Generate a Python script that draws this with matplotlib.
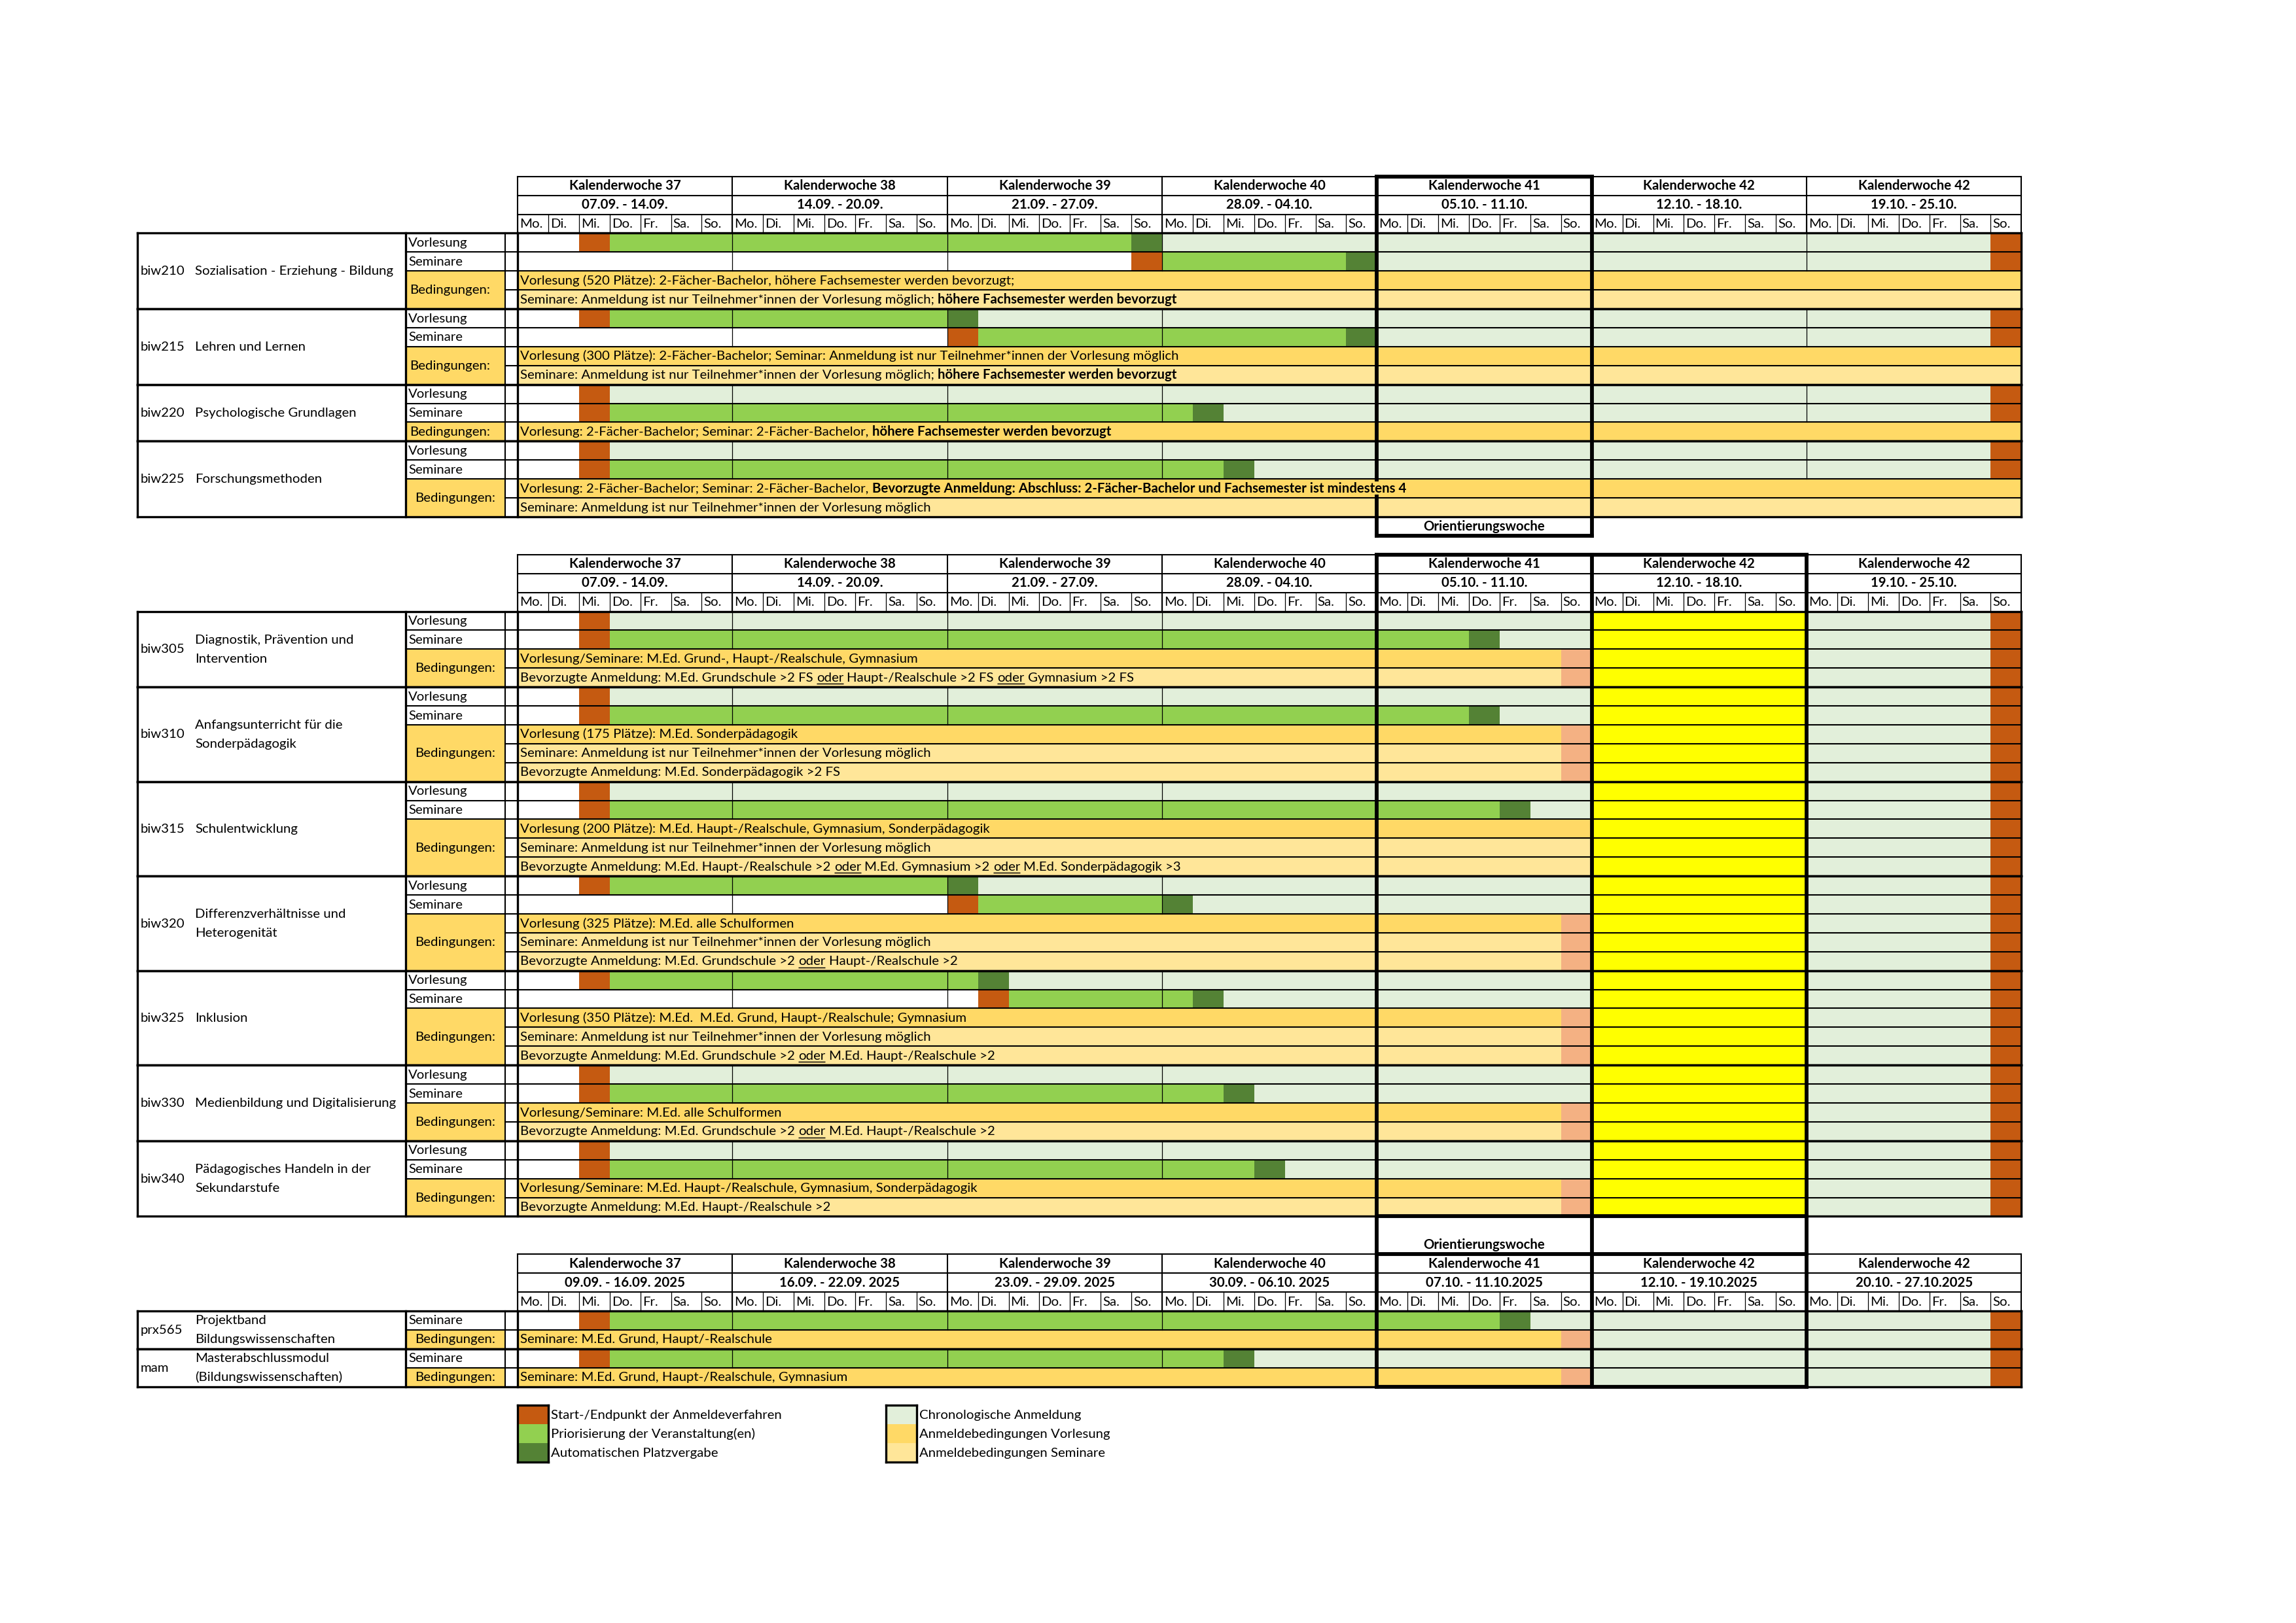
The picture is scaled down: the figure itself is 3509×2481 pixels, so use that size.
import matplotlib
matplotlib.use("Agg")
import matplotlib.pyplot as plt

# cell categories -> fill colour
COL = {
    "s": "#C55A11",  # start / end
    "g": "#92D050",  # priorisierung
    "d": "#548235",  # automatische platzvergabe
    "c": "#E2EFDA",  # chronologische anmeldung
    "v": "#FFD966",  # bedingungen vorlesung
    "m": "#FFE699",  # bedingungen seminare
    "p": "#F4B183",  # end of conditions
    "y": "#FFFF00",  # highlighted week
}

WEEK_LABELS = ["Kalenderwoche 37", "Kalenderwoche 38", "Kalenderwoche 39", "Kalenderwoche 40",
               "Kalenderwoche 41", "Kalenderwoche 42", "Kalenderwoche 42"]
DATES_A = ["07.09. - 14.09.", "14.09. - 20.09.", "21.09. - 27.09.", "28.09. - 04.10.",
           "05.10. - 11.10.", "12.10. - 18.10.", "19.10. - 25.10."]
DATES_C = ["09.09. - 16.09. 2025", "16.09. - 22.09. 2025", "23.09. - 29.09. 2025",
           "30.09. - 06.10. 2025", "07.10. - 11.10.2025", "12.10. - 19.10.2025",
           "20.10. - 27.10.2025"]
DAY_NAMES = ["Mo.", "Di.", "Mi.", "Do.", "Fr.", "Sa.", "So."]

SEM_NOTE = [("Seminare: Anmeldung ist nur Teilnehmer*innen der Vorlesung möglich", "n")]

# block 1 (bachelor); runs = category + number of days
BA_CODES = ["biw210", "biw215", "biw220", "biw225"]
BA_TITLES = [["Sozialisation - Erziehung - Bildung"], ["Lehren und Lernen"],
             ["Psychologische Grundlagen"], ["Forschungsmethoden"]]
BA_VORL = ["w2 s1 g17 d1 c27 s1", "w2 s1 g11 d1 c33 s1", "w2 s1 c45 s1", "w2 s1 c45 s1"]
BA_SEM = ["w20 s1 g6 d1 c20 s1", "w14 s1 g12 d1 c20 s1", "w2 s1 g19 d1 c25 s1",
          "w2 s1 g20 d1 c24 s1"]
BA_COND_FILL = [["v49", "m49"], ["v49", "m49"], ["v49"], ["v49", "m49"]]
BA_COND_TEXT = [
    [[("Vorlesung (520 Plätze): 2-Fächer-Bachelor, höhere Fachsemester werden bevorzugt;", "n")],
     [("Seminare: Anmeldung ist nur Teilnehmer*innen der Vorlesung möglich; ", "n"),
      ("höhere Fachsemester werden bevorzugt", "b")]],
    [[("Vorlesung (300 Plätze): 2-Fächer-Bachelor; Seminar: Anmeldung ist nur "
       "Teilnehmer*innen der Vorlesung möglich", "n")],
     [("Seminare: Anmeldung ist nur Teilnehmer*innen der Vorlesung möglich; ", "n"),
      ("höhere Fachsemester werden bevorzugt", "b")]],
    [[("Vorlesung: 2-Fächer-Bachelor; Seminar: 2-Fächer-Bachelor, ", "n"),
      ("höhere Fachsemester werden bevorzugt", "b")]],
    [[("Vorlesung: 2-Fächer-Bachelor; Seminar: 2-Fächer-Bachelor, ", "n"),
      ("Bevorzugte Anmeldung: Abschluss: 2-Fächer-Bachelor und Fachsemester ist mindestens 4", "b")],
     SEM_NOTE],
]
BA_LEFT_LABEL = [True, True, True, False]

# block 2 (master of education)
MA_CODES = ["biw305", "biw310", "biw315", "biw320", "biw325", "biw330", "biw340"]
MA_TITLES = [["Diagnostik, Prävention und", "Intervention"],
             ["Anfangsunterricht für die", "Sonderpädagogik"],
             ["Schulentwicklung"],
             ["Differenzverhältnisse und", "Heterogenität"],
             ["Inklusion"],
             ["Medienbildung und Digitalisierung"],
             ["Pädagogisches Handeln in der", "Sekundarstufe"]]
MA_VORL = ["w2 s1 c32 y7 c6 s1", "w2 s1 c32 y7 c6 s1", "w2 s1 c32 y7 c6 s1",
           "w2 s1 g11 d1 c20 y7 c6 s1", "w2 s1 g12 d1 c19 y7 c6 s1",
           "w2 s1 c32 y7 c6 s1", "w2 s1 c32 y7 c6 s1"]
MA_SEM = ["w2 s1 g28 d1 c3 y7 c6 s1", "w2 s1 g28 d1 c3 y7 c6 s1", "w2 s1 g29 d1 c2 y7 c6 s1",
          "w14 s1 g6 d1 c13 y7 c6 s1", "w15 s1 g6 d1 c12 y7 c6 s1",
          "w2 s1 g20 d1 c11 y7 c6 s1", "w2 s1 g21 d1 c10 y7 c6 s1"]
MA_COND_FILL = [
    ["v34 p1 y7 c6 s1", "m34 p1 y7 c6 s1"],
    ["v34 p1 y7 c6 s1", "m34 p1 y7 c6 s1", "m34 p1 y7 c6 s1"],
    ["v35 y7 c6 s1", "m35 y7 c6 s1", "m35 y7 c6 s1"],
    ["v34 p1 y7 c6 s1", "m34 p1 y7 c6 s1", "m34 p1 y7 c6 s1"],
    ["v34 p1 y7 c6 s1", "m34 p1 y7 c6 s1", "m34 p1 y7 c6 s1"],
    ["v34 p1 y7 c6 s1", "m34 p1 y7 c6 s1"],
    ["v34 p1 y7 c6 s1", "m34 p1 y7 c6 s1"],
]
MA_COND_TEXT = [
    [[("Vorlesung/Seminare: M.Ed. Grund-, Haupt-/Realschule, Gymnasium", "n")],
     [("Bevorzugte Anmeldung: M.Ed. Grundschule >2 FS ", "n"), ("oder", "u"),
      (" Haupt-/Realschule >2 FS ", "n"), ("oder", "u"), (" Gymnasium >2 FS", "n")]],
    [[("Vorlesung (175 Plätze): M.Ed. Sonderpädagogik", "n")], SEM_NOTE,
     [("Bevorzugte Anmeldung: M.Ed. Sonderpädagogik >2 FS", "n")]],
    [[("Vorlesung (200 Plätze): M.Ed. Haupt-/Realschule, Gymnasium, Sonderpädagogik", "n")],
     SEM_NOTE,
     [("Bevorzugte Anmeldung: M.Ed. Haupt-/Realschule >2 ", "n"), ("oder", "u"),
      (" M.Ed. Gymnasium >2 ", "n"), ("oder", "u"), (" M.Ed. Sonderpädagogik >3", "n")]],
    [[("Vorlesung (325 Plätze): M.Ed. alle Schulformen", "n")], SEM_NOTE,
     [("Bevorzugte Anmeldung: M.Ed. Grundschule >2 ", "n"), ("oder", "u"),
      (" Haupt-/Realschule >2", "n")]],
    [[("Vorlesung (350 Plätze): M.Ed.  M.Ed. Grund, Haupt-/Realschule; Gymnasium", "n")],
     SEM_NOTE,
     [("Bevorzugte Anmeldung: M.Ed. Grundschule >2 ", "n"), ("oder", "u"),
      (" M.Ed. Haupt-/Realschule >2", "n")]],
    [[("Vorlesung/Seminare: M.Ed. alle Schulformen", "n")],
     [("Bevorzugte Anmeldung: M.Ed. Grundschule >2 ", "n"), ("oder", "u"),
      (" M.Ed. Haupt-/Realschule >2", "n")]],
    [[("Vorlesung/Seminare: M.Ed. Haupt-/Realschule, Gymnasium, Sonderpädagogik", "n")],
     [("Bevorzugte Anmeldung: M.Ed. Haupt-/Realschule >2", "n")]],
]

# block 3 (projektband / masterabschlussmodul)
PM_CODES = ["prx565", "mam"]
PM_TITLES = [["Projektband", "Bildungswissenschaften"],
             ["Masterabschlussmodul", "(Bildungswissenschaften)"]]
PM_VORL = [None, None]
PM_SEM = ["w2 s1 g29 d1 c15 s1", "w2 s1 g20 d1 c24 s1"]
PM_COND_FILL = [["v34 p1 c13 s1"], ["v34 p1 c13 s1"]]
PM_COND_TEXT = [[[("Seminare: M.Ed. Grund, Haupt/-Realschule", "n")]],
                [[("Seminare: M.Ed. Grund, Haupt-/Realschule, Gymnasium", "n")]]]

LEG_KEYS_A = ["s", "g", "d"]
LEG_TEXT_A = ["Start-/Endpunkt der Anmeldeverfahren", "Priorisierung der Veranstaltung(en)",
              "Automatischen Platzvergabe"]
LEG_KEYS_B = ["c", "v", "m"]
LEG_TEXT_B = ["Chronologische Anmeldung", "Anmeldebedingungen Vorlesung",
              "Anmeldebedingungen Seminare"]

# page geometry (pixels)
W, H = 3509, 2481
X_LABEL, X_TITLE, X_TYPE, X_SMALL, X_GRID = 210, 298, 620, 772, 791
DAY_W = 46.9
Y0, ROW_H = 270, 28.9
FS = 4.9
LW_THIN, LW_ROW, LW_GROUP, LW_BOX = 0.3, 0.5, 0.8, 1.4

plt.rcParams["font.family"] = ["Lato", "DejaVu Sans"]
plt.rcParams["font.size"] = FS

fig = plt.figure(figsize=(W / 300 + 0.001, H / 300 + 0.001), dpi=300)
ax = fig.add_axes([0, 0, 1, 1])
ax.set_xlim(0, W)
ax.set_ylim(H, 0)
ax.axis("off")
renderer = fig.canvas.get_renderer()


def ry(r):
    return Y0 + r * ROW_H


def dx(d):
    return X_GRID + d * DAY_W


def base(r):
    return ry(r) + ROW_H * 0.7


X_END = dx(49)


def hl(y, x1, x2, lw):
    ax.hlines(y, x1, x2, colors="black", linewidth=lw, zorder=3, capstyle="projecting")


def vl(x, y1, y2, lw):
    ax.vlines(x, y1, y2, colors="black", linewidth=lw, zorder=3, capstyle="projecting")


_t1 = ax.text(0, 0, "a a")
_t2 = ax.text(0, 0, "aa")
SPACE_W = _t1.get_window_extent(renderer).width - _t2.get_window_extent(renderer).width
_t1.remove()
_t2.remove()


def rich(x, y, segments, bg):
    # text that runs over a cell border hides it, as in the spreadsheet
    for txt, style in segments:
        core = txt.strip(" ")
        x += (len(txt) - len(txt.lstrip(" "))) * SPACE_W
        t = ax.text(x, y, core, va="baseline", zorder=5,
                    fontweight="bold" if style == "b" else "normal",
                    bbox=dict(boxstyle="square,pad=0", facecolor=bg, edgecolor="none"))
        w = t.get_window_extent(renderer).width
        if style == "u":
            ax.hlines(y + 3.5, x, x + w, colors="black", linewidth=0.35, zorder=6)
        x += w + (len(txt) - len(txt.rstrip(" "))) * SPACE_W


def fill_runs(row, runs):
    day = 0
    for token in runs.split():
        key, n = token[0], int(token[1:])
        if key != "w":
            ax.barh(ry(row) + ROW_H / 2, n * DAY_W, left=dx(day), height=ROW_H,
                    color=COL[key], linewidth=0, zorder=1)
        day += n


def draw_header(top, dates):
    for k in range(4):
        hl(ry(top + k), X_GRID, X_END, LW_ROW)
    for w in range(8):
        vl(dx(7 * w), ry(top), ry(top + 3), LW_ROW)
    for d in range(49):
        vl(dx(d), ry(top + 2), ry(top + 3), LW_THIN)
    for w in range(7):
        xc = dx(7 * w + 3.5)
        ax.text(xc, base(top), WEEK_LABELS[w], ha="center", va="baseline",
                fontweight="bold", zorder=5)
        ax.text(xc, base(top + 1), dates[w], ha="center", va="baseline",
                fontweight="bold", zorder=5)
        for k in range(7):
            ax.text(dx(7 * w + k) + 3, base(top + 2), DAY_NAMES[k], va="baseline", zorder=5)


def draw_block(top, dates, codes, titles, vorl, sem, cond_fill, cond_text, left_label=None):
    draw_header(top, dates)
    r0 = top + 3
    for i, code in enumerate(codes):
        rows = []
        if vorl[i]:
            rows.append(("Vorlesung", vorl[i], None))
        rows.append(("Seminare", sem[i], None))
        for fill, txt in zip(cond_fill[i], cond_text[i]):
            rows.append(("cond", fill, txt))
        r1 = r0 + len(rows)
        n_vs = sum(1 for r in rows if r[0] != "cond")

        for k, (kind, runs, txt) in enumerate(rows):
            r = r0 + k
            fill_runs(r, runs)
            if kind == "cond":
                rich(dx(0) + 4, base(r), txt, COL[runs[0]])
            else:
                ax.text(X_TYPE + 4, base(r), kind, va="baseline", zorder=5)
                for w in range(1, 7):
                    vl(dx(7 * w), ry(r), ry(r + 1), LW_THIN)
            if k > 0:
                inner = kind == "cond" and rows[k - 1][0] == "cond"
                hl(ry(r), X_SMALL if inner else X_TYPE, X_END, LW_ROW)

        # merged "Bedingungen:" cell
        rc = r0 + n_vs
        ax.barh((ry(rc) + ry(r1)) / 2, X_SMALL - X_TYPE, left=X_TYPE, height=ry(r1) - ry(rc),
                color=COL["v"], linewidth=0, zorder=1)
        yb = (ry(rc) + ry(r1)) / 2 + ROW_H * 0.2
        if left_label is not None and left_label[i]:
            ax.text(X_TYPE + 6, yb, "Bedingungen:", va="baseline", zorder=5)
        else:
            ax.text((X_TYPE + X_SMALL) / 2, yb, "Bedingungen:", ha="center", va="baseline",
                    zorder=5)

        # module code and title
        yc = (ry(r0) + ry(r1)) / 2
        ax.text(X_LABEL + 5, yc + ROW_H * 0.2, code, va="baseline", zorder=5)
        m = len(titles[i])
        for j, line in enumerate(titles[i]):
            ax.text(X_TITLE, yc + (j - (m - 1) / 2) * ROW_H + ROW_H * 0.2, line,
                    va="baseline", zorder=5)

        hl(ry(r0), X_LABEL, X_END, LW_GROUP)
        hl(ry(r1), X_LABEL, X_END, LW_GROUP)
        vl(X_LABEL, ry(r0), ry(r1), LW_GROUP)
        vl(X_TYPE, ry(r0), ry(r1), LW_GROUP)
        vl(X_SMALL, ry(r0), ry(r1), LW_ROW)
        vl(X_GRID, ry(r0), ry(r1), LW_GROUP)
        vl(X_END, ry(r0), ry(r1), LW_GROUP)
        r0 = r1
    return r0


# block 1
end1 = draw_block(0, DATES_A, BA_CODES, BA_TITLES, BA_VORL, BA_SEM, BA_COND_FILL,
                  BA_COND_TEXT, BA_LEFT_LABEL)
for d in (28, 35):
    vl(dx(d), ry(0), ry(end1 + 1), LW_BOX)
hl(ry(0), dx(28), dx(35), LW_BOX)
hl(ry(end1 + 1), dx(28), dx(35), LW_BOX)
ax.text(dx(31.5), base(end1), "Orientierungswoche", ha="center", va="baseline",
        fontweight="bold", zorder=5)

# block 2
end2 = draw_block(20, DATES_A, MA_CODES, MA_TITLES, MA_VORL, MA_SEM, MA_COND_FILL,
                  MA_COND_TEXT)

# block 3
end3 = draw_block(57, DATES_C, PM_CODES, PM_TITLES, PM_VORL, PM_SEM, PM_COND_FILL,
                  PM_COND_TEXT)
ax.text(dx(31.5), base(56), "Orientierungswoche", ha="center", va="baseline",
        fontweight="bold", zorder=5)

for d in (28, 35, 42):
    vl(dx(d), ry(20), ry(end3), LW_BOX)
for r in (20, end2, 57, end3):
    hl(ry(r), dx(28), dx(42), LW_BOX)

# legend
for col_day, keys, labels in ((0, LEG_KEYS_A, LEG_TEXT_A), (12, LEG_KEYS_B, LEG_TEXT_B)):
    r = 65
    x0 = dx(col_day)
    for k, (key, lab) in enumerate(zip(keys, labels)):
        ax.barh(ry(r + k) + ROW_H / 2, DAY_W, left=x0, height=ROW_H, color=COL[key],
                linewidth=0, zorder=1)
        ax.text(x0 + DAY_W + 4, base(r + k), lab, va="baseline", zorder=5)
    hl(ry(r), x0, x0 + DAY_W, LW_GROUP)
    hl(ry(r + 3), x0, x0 + DAY_W, LW_GROUP)
    vl(x0, ry(r), ry(r + 3), LW_GROUP)
    vl(x0 + DAY_W, ry(r), ry(r + 3), LW_GROUP)

fig.savefig("out.png", dpi=300, facecolor="white")
print("Saved out.png")
